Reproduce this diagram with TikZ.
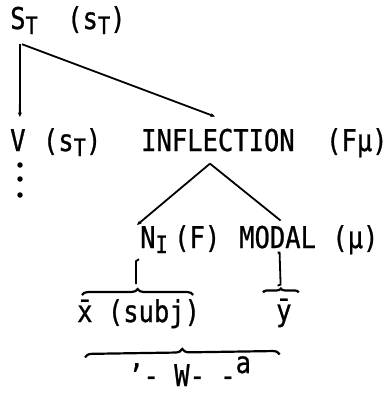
\documentclass[tikz,border=0pt]{standalone}
\usepackage{fontspec}
\usetikzlibrary{arrows.meta,positioning,decorations.pathreplacing}
\newfontfamily\typer[FakeStretch=0.85,FakeBold=0.8]{DejaVu Sans Mono}
\newcommand\lowsub[1]{\raisebox{-5bp}{\fontsize{24bp}{24bp}\selectfont #1}}

\begin{document}
\begin{tikzpicture}[
  x=1bp, y=-1bp,
  every node/.style={font=\typer\fontsize{30bp}{32bp}\selectfont, inner sep=0pt},
  lbl/.style={anchor=base west},
  branch/.style={line width=1.8bp},
  tip/.style={-{Stealth[length=4.5bp,width=4bp]}},
  brace/.style={line width=2.2bp, decorate, decoration={brace, amplitude=#1}},
  brace/.default=6bp,
  dot/.style={circle, fill, minimum size=5.5bp, inner sep=0pt}
]
\useasboundingbox (0,0) rectangle (388,394);

% labels, row by row
\node[lbl] (st) at (10,29) {S\lowsub{T}};
\node[lbl, base right=29bp of st] (stsem) {(s\lowsub{T})};

\node[lbl] (v) at (10,151) {V};
\node[lbl, base right=17bp of v] (vsem) {(s\lowsub{T})};
\node[lbl] (infl) at (141,151) {INFLECTION};
\node[lbl, base right=31bp of infl] (inflsem) {(Fμ)};

\node[lbl] (ni) at (140,248) {N\lowsub{I}};
\node[lbl] (nisem) at (174,248) {(F)};
\node[lbl] (modal) at (239,248) {MODAL};
\node[lbl, base right=16bp of modal] (modalsem) {(μ)};

\node[lbl] (xbar) at (77,322) {\={x} (subj)};
\node[lbl] (ybar) at (276,321) {\={y}};
\node[lbl] (wa) at (128,386) {’- W- -\raisebox{13bp}{a}};

\foreach \y [count=\i] in {165,179,195}
  \node[dot] (dot\i) at (20,\y) {};

% branches
\draw[branch, tip] ([xshift=-4bp,yshift=-10bp]st.south) -- ([xshift=2bp,yshift=12bp]v.north);
\draw[branch, tip] ([xshift=-2bp,yshift=-10bp]st.south) -- ([xshift=-3bp,yshift=12bp]infl.north);
\draw[branch, tip] ([xshift=-8bp,yshift=-12bp]infl.south) -- ([xshift=-3bp,yshift=1bp]ni.north west);
\draw[branch] ([xshift=-8bp,yshift=-12bp]infl.south) -- ([xshift=3bp,yshift=5bp]modal.north);

% bracket ticks
\draw[branch] ([shift={(-1bp,-6bp)}]ni.south west) -- ++(-3,2) -- ++(0,23);
\draw[branch] ([shift={(0bp,-4bp)}]modal.south) -- ++(2,0) -- ++(1,32) -- ++(-3,1);

% braces
\draw[brace] ([shift={(5bp,4bp)}]xbar.north west) -- ([shift={(-7bp,4bp)}]xbar.north east);
\draw[brace=4bp] ([shift={(-13bp,6bp)}]ybar.north west) -- ([shift={(7bp,6bp)}]ybar.north east);
\draw[brace=7bp] ([shift={(8bp,-29bp)}]xbar.south west) -- ([shift={(-12bp,-27bp)}]ybar.south east);
\end{tikzpicture}
\end{document}
